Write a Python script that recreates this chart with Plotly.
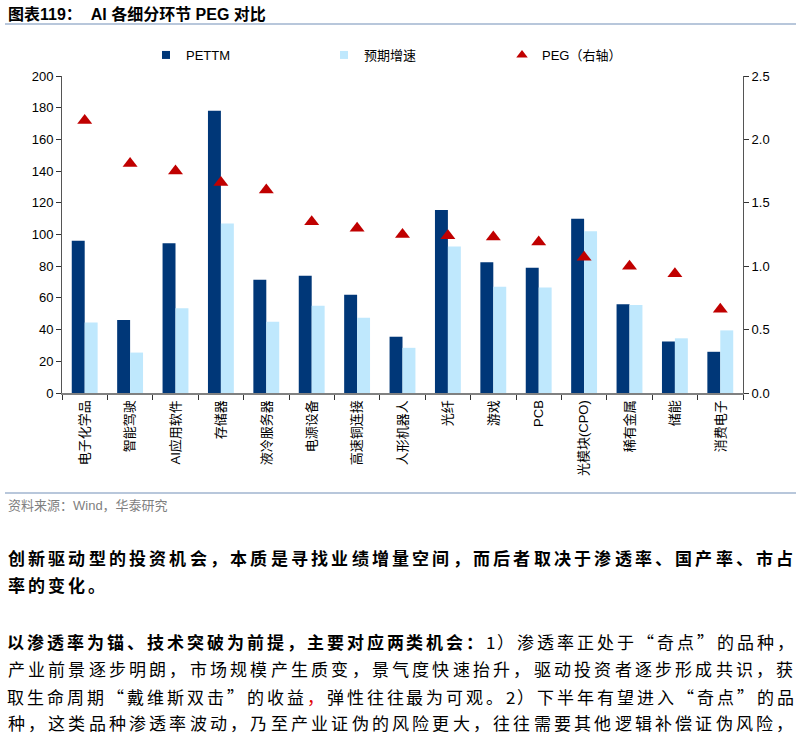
import plotly.graph_objects as go

# ---------------- data ----------------
categories = ["电子化学品", "智能驾驶", "AI应用软件", "存储器", "液冷服务器", "电源设备",
              "高速铜连接", "人形机器人", "光纤", "游戏", "PCB", "光模块(CPO)",
              "稀有金属", "储能", "消费电子"]
pettm = [96, 46, 94.5, 178, 71.5, 74, 62, 35.5, 115.5, 82.5, 79, 110, 56, 32.5, 26]
growth = [44.5, 25.5, 53.5, 107, 45, 55, 47.5, 28.5, 92.5, 67, 66.5, 102, 55.5, 34.5, 39.5]
peg = [2.15, 1.81, 1.75, 1.66, 1.60, 1.35, 1.30, 1.25, 1.24, 1.23, 1.19, 1.07, 1.00, 0.94, 0.66]

left_ticks = [0, 20, 40, 60, 80, 100, 120, 140, 160, 180, 200]
right_ticks = [0, 0.5, 1.0, 1.5, 2.0, 2.5]

series_names = ["PETTM", "预期增速", "PEG（右轴）"]
title_text = "图表119：  AI 各细分环节 PEG 对比"
source_text = "资料来源：Wind，华泰研究"

# paragraph lines: list of segments (text, bold, color), justified flag, baseline y
para_lines = [
    ([("创新驱动型的投资机会，本质是寻找业绩增量空间，而后者取决于渗透率、国产率、市占", True, "#000000")], True, 557),
    ([("率的变化。", True, "#000000")], False, 584),
    ([("以渗透率为锚、技术突破为前提，主要对应两类机会：", True, "#000000"),
      ("1）渗透率正处于“奇点”的品种，", False, "#000000")], True, 641),
    ([("产业前景逐步明朗，市场规模产生质变，景气度快速抬升，驱动投资者逐步形成共识，获", False, "#000000")], True, 668),
    ([("取生命周期“戴维斯双击”的收益", False, "#000000"), ("，", False, "#E00000"),
      ("弹性往往最为可观。2）下半年有望进入“奇点”的品", False, "#000000")], True, 696),
    ([("种，这类品种渗透率波动，乃至产业证伪的风险更大，往往需要其他逻辑补偿证伪风险，", False, "#000000")], True, 723),
]

# ---------------- geometry helpers ----------------
W, H = 800, 740
ML, MR, MT, MB = 62, 57, 76, 347
PW = W - ML - MR
PH = H - MT - MB


def px_x(px):
    return (px - ML) / PW


def px_y(py):
    return (H - MB - py) / PH


LAT = "Liberation Sans, Arial, Noto Sans CJK SC"
CJK = "Noto Sans CJK SC, Liberation Sans"
C_DARK, C_LIGHT, C_RED = "#003778", "#BFE8FD", "#C00000"

fig = go.Figure()
fig.add_trace(go.Bar(x=categories, y=pettm, name=series_names[0], showlegend=False,
                     marker=dict(color=C_DARK, line=dict(width=0))))
fig.add_trace(go.Bar(x=categories, y=growth, name=series_names[1], showlegend=False,
                     marker=dict(color=C_LIGHT, line=dict(width=0))))
fig.add_trace(go.Scatter(x=categories, y=peg, name=series_names[2], mode="markers", yaxis="y2",
                         showlegend=False,
                         marker=dict(symbol="triangle-up", size=13, color=C_RED)))
# legend entries (small symbols as in the original)
for nm, sym, col in zip(series_names, ["square", "square", "triangle-up"], [C_DARK, C_LIGHT, C_RED]):
    fig.add_trace(go.Scatter(x=[None], y=[None], name=nm, mode="markers",
                             marker=dict(symbol=sym, size=8 if sym == "square" else 10, color=col)))

annotations = []
annotations.append(dict(text="<b>" + title_text + "</b>", x=px_x(6), y=px_y(14), xref="paper", yref="paper",
                        xanchor="left", yanchor="middle", showarrow=False,
                        font=dict(family=LAT, size=16, color="#000000")))
annotations.append(dict(text=source_text, x=px_x(6), y=px_y(505), xref="paper", yref="paper",
                        xanchor="left", yanchor="middle", showarrow=False,
                        font=dict(family=LAT, size=13, color="#7F7F7F")))

# paragraph text, placed character by character to reproduce justified layout
X0, X1 = 6, 795
for segs, justified, ypx in para_lines:
    chars = []
    for txt, bold, col in segs:
        for ch in txt:
            u = 0.55 if ord(ch) < 128 else 1.0
            chars.append((ch, u, bold, col))
    total = sum(c[1] for c in chars)
    step = (X1 - X0) / total if justified else 20.0
    cum = 0.0
    for ch, u, bold, col in chars:
        cx = X0 + (cum + u / 2) * step
        cum += u
        annotations.append(dict(text=ch, x=px_x(cx), y=px_y(ypx), xref="paper", yref="paper",
                                xanchor="center", yanchor="middle", showarrow=False,
                                font=dict(family=CJK, size=17, color=col,
                                          weight=700 if bold else 400)))

shapes = [
    dict(type="line", xref="paper", yref="paper", x0=px_x(5), x1=px_x(796), y0=px_y(24), y1=px_y(24),
         line=dict(color="#B8C7DB", width=2)),
    dict(type="line", xref="paper", yref="paper", x0=px_x(5), x1=px_x(796), y0=px_y(493), y1=px_y(493),
         line=dict(color="#B8C7DB", width=2)),
]

fig.update_layout(
    template="none",
    width=W, height=H,
    margin=dict(l=ML, r=MR, t=MT, b=MB, autoexpand=False),
    paper_bgcolor="white", plot_bgcolor="white",
    barmode="group", bargap=0.43, bargroupgap=0,
    font=dict(family=LAT, size=13, color="#000000"),
    showlegend=True,
    legend=dict(orientation="h", x=px_x(146), y=px_y(55), xref="paper", yref="paper",
                xanchor="left", yanchor="middle", bgcolor="rgba(0,0,0,0)",
                font=dict(family=LAT, size=13, color="#000000"),
                entrywidth=133, entrywidthmode="pixels"),
    xaxis=dict(type="category", range=[-0.5, len(categories) - 0.5], tickson="boundaries",
               ticks="outside", ticklen=5, tickwidth=1,
               tickcolor="#333333", showline=True, linecolor="#808080", linewidth=2,
               tickangle=-90, showgrid=False, zeroline=False, automargin=False,
               tickfont=dict(family=LAT, size=13, color="#000000")),
    yaxis=dict(range=[0, 200], tickvals=left_ticks, ticks="outside", ticklen=5, tickwidth=1,
               tickcolor="#333333", showline=True, linecolor="#555555", linewidth=1,
               showgrid=False, zeroline=False, automargin=False,
               tickfont=dict(family=LAT, size=13, color="#000000")),
    yaxis2=dict(range=[0, 2.5], tickvals=right_ticks, tickformat=".1f", overlaying="y", side="right",
                ticks="outside", ticklen=5, tickwidth=1, tickcolor="#333333", showline=True,
                linecolor="#555555", linewidth=1, showgrid=False, zeroline=False, automargin=False,
                tickfont=dict(family=LAT, size=13, color="#000000")),
    annotations=annotations,
    shapes=shapes,
)

fig.write_html("out.html")
